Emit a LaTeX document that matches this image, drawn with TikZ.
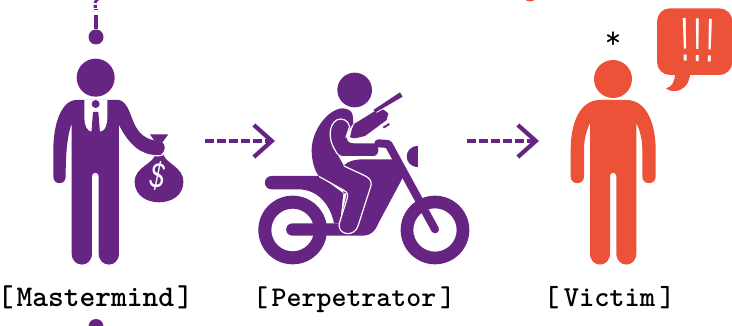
\documentclass[tikz,border=0pt]{standalone}
\usepackage{fontspec}
\newfontfamily\bagfont{Liberation Sans}
\usetikzlibrary{arrows.meta}
\definecolor{plum}{HTML}{662483}
\definecolor{alarm}{HTML}{EC5237}

\newcommand{\rolelabel}[3]{\fontsize{#1}{#1}\ttfamily\bfseries\hspace*{-3pt}[ \hspace{#2}#3 \hspace{#2}]\hspace*{-3pt}}
\newcommand{\thinbang}[1]{\scalebox{0.5}[1]{\rotatebox{#1}{!}}}

\begin{document}
\begin{tikzpicture}[x=1pt,y=-1pt,
    figbox/.style={inner sep=0pt,outer sep=0pt,minimum height=100pt},
    rolename/.style={inner sep=0pt,text=black,anchor=base},
    flow/.style={plum,line width=4.5pt,dash pattern=on 8.5pt off 3.5pt,
      -{Straight Barb[length=18pt,width=32pt,line width=4.2pt]}},
    enddot/.style={circle,fill=#1,inner sep=0pt,minimum size=15pt},
    seam/.style={white,line width=1.2pt,line cap=round,line join=round,fill=none}]
  \useasboundingbox (0,0) rectangle (732,326);
  \clip (0,0) rectangle (732,326);

  % Left: mastermind with the money bag.
  \begin{scope}[scale=1/3,fill=plum]
    \fill (287,233) circle (57);
    \fill (465,462) .. controls (465,490) and (404,500) .. (404,545)
      .. controls (404,590) and (445,607) .. (477,607)
      .. controls (510,607) and (550,590) .. (550,545)
      .. controls (550,500) and (495,490) .. (490,462) -- cycle;
    \fill (450,403) -- (505,403) -- (485,430) -- (468,430) -- cycle;
    \draw[seam] (452,424) .. controls (480,424) and (512,430) .. (497,456)
      .. controls (492,468) and (475,469) .. (458,466);
    \fill (250,300) -- (357,300) .. controls (380,305) and (388,335) .. (400,365)
      .. controls (415,400) and (435,420) .. (480,424)
      .. controls (500,428) and (500,465) .. (470,465)
      .. controls (420,465) and (385,430) .. (357,375) -- (357,760)
      .. controls (357,805) and (296,805) .. (296,760) -- (296,528)
      .. controls (296,515) and (276,515) .. (276,528) -- (276,760)
      .. controls (276,805) and (215,805) .. (215,760) -- (215,370)
      .. controls (205,400) and (197,440) .. (197,530)
      .. controls (197,556) and (160,556) .. (160,530) -- (160,450)
      .. controls (160,370) and (185,300) .. (230,300) -- cycle;
    \fill[white] (253,300) -- (322,300) -- (322,355)
      .. controls (320,385) and (310,395) .. (298,395) -- (276,395)
      .. controls (262,395) and (253,375) .. (253,355) -- cycle;
    \fill (287,312) circle (12);
    \fill (279,336) -- (295,336) -- (300,400) -- (274,400) -- cycle;
  \end{scope}
  \node[inner sep=0pt,text=white,font=\bagfont\itshape\fontsize{36}{36}\selectfont,rotate=-4] (dollar) at (158,176) {\scalebox{0.72}[1]{\$}};

  % Middle: perpetrator on the motorbike.
  \begin{scope}[shift={(200,60)},scale=1/3,fill=plum]
    \fill[even odd rule] (278,510) circle (103) (278,510) circle (64);
    \fill[even odd rule] (705,510) circle (103) (705,510) circle (65);
    \fill (215,348) -- (360,348) -- (430,400) -- (420,490) -- (402,490)
      .. controls (390,430) and (350,388) .. (295,388) -- (215,388)
      .. controls (188,388) and (188,348) .. (215,348) -- cycle;
    \fill (278,490) -- (420,490) -- (440,400) -- (610,350) -- (535,490)
      .. controls (525,515) and (510,527) .. (490,527) -- (278,527)
      .. controls (252,527) and (252,490) .. (278,490) -- cycle;
    \fill (432,316) .. controls (445,303) and (465,298) .. (490,298) -- (580,298)
      -- (612,352) -- (520,400) -- (430,400) -- cycle;
    \draw[plum,line width=8pt,line cap=round,line join=round]
      (535,250) -- (565,252) -- (705,508);
    \fill (655,257) .. controls (610,257) and (610,320) .. (655,320) -- cycle;
    \fill (464,90) circle (52);
    % rider, leg and lower arm in one outline
    \fill (425,145) .. controls (380,150) and (335,215) .. (335,270)
      .. controls (335,305) and (345,335) .. (358,350) -- (430,390)
      .. controls (445,398) and (445,405) .. (440,420) -- (418,490)
      .. controls (410,525) and (465,535) .. (475,495) -- (512,380)
      .. controls (518,360) and (505,352) .. (490,345) -- (432,318)
      -- (415,288) -- (520,288) .. controls (540,288) and (540,250) .. (520,250)
      -- (460,250) .. controls (445,250) and (438,240) .. (440,225)
      -- (450,205) -- (460,190) -- (458,165) .. controls (455,150) and (440,145) .. (425,145) -- cycle;
    \fill (462,192) -- (530,150) -- (545,145) -- (565,160) -- (560,180)
      -- (495,228) -- (465,235) -- (450,232) -- (455,210) -- cycle;
    \fill (520,150) -- (600,97) -- (608,110) -- (560,138) -- (530,157) -- cycle;
    \draw[plum,line width=2pt] (550,203) -- (568,192);
    \draw[seam] (358,350) -- (430,390) .. controls (445,398) and (445,405) .. (440,420)
      -- (418,490) .. controls (410,525) and (465,535) .. (475,495) -- (512,380)
      .. controls (518,360) and (505,352) .. (490,345) -- (432,318);
    \draw[seam] (438,232) -- (449,200) .. controls (445,180) and (425,172) .. (410,180)
      .. controls (385,195) and (385,240) .. (405,270)
      .. controls (412,285) and (420,292) .. (440,292);
    \draw[seam,line width=0.8pt] (530,157) -- (555,143);
  \end{scope}

  % Right: victim and the speech bubble.
  \begin{scope}[shift={(500,0)},scale=1/3,fill=alarm]
    \fill (339,237) circle (57);
    \fill (300,300) -- (379,300) .. controls (440,300) and (467,370) .. (467,450) -- (467,530)
      .. controls (467,556) and (427,556) .. (427,530) -- (427,450)
      .. controls (427,420) and (420,390) .. (409,370) -- (409,760)
      .. controls (409,805) and (349,805) .. (349,760) -- (349,528)
      .. controls (349,515) and (330,515) .. (330,528) -- (330,760)
      .. controls (330,805) and (270,805) .. (270,760) -- (270,370)
      .. controls (259,390) and (252,420) .. (252,450) -- (252,530)
      .. controls (252,556) and (212,556) .. (212,530) -- (212,450)
      .. controls (212,370) and (239,300) .. (300,300) -- cycle;
    \fill[rounded corners=13pt] (471,25) rectangle (697,225);
    \fill (525,220) .. controls (525,245) and (515,262) .. (498,265)
      .. controls (520,285) and (570,270) .. (570,220) -- cycle;
  \end{scope}
  \node[inner sep=0pt,text=white,font=\bagfont\fontsize{62}{62}\selectfont] (shout) at (697.5,40.5)
    {\thinbang{3}\hspace{3.5pt}\thinbang{0}\hspace{3.5pt}\thinbang{-3}};
  \node[inner sep=0pt,font=\ttfamily\fontsize{32}{32}\selectfont] (note) at (613,40) {*};

  % Invisible boxes that the arrows run between.
  \node[figbox,minimum width=152pt] (mastermind) at (129,141) {};
  \node[figbox,minimum width=192pt] (perpetrator) at (371,141) {};
  \node[figbox,minimum width=121pt] (victim) at (599.5,141) {};
  \draw[flow] (mastermind.east) -- (perpetrator.west);
  \draw[flow] (perpetrator.east) -- (victim.west);

  % Ends of the links that run out of the picture.
  \node[enddot=plum] (topdot) at (96,37) {};
  \node[enddot=plum] (bottomdot) at (96,326.5) {};
  \node[enddot=alarm] (reddot) at (530,-6) {};
  \node[inner sep=0pt,anchor=base,text=plum,font=\bagfont\bfseries\fontsize{24}{24}\selectfont] (unknown) at (96,9) {?};
  \draw[plum,line width=4.5pt,dash pattern=on 14pt off 5pt on 8pt off 5pt] (topdot) -- (unknown.south);

  \node[rolename] (masterlabel) at (95.5,306) {\rolelabel{30}{-12.5pt}{Mastermind}};
  \node[rolename] (perplabel) at (354,306) {\rolelabel{28.5}{-11pt}{Perpetrator}};
  \node[rolename] (victimlabel) at (609.5,306) {\rolelabel{29}{-10.5pt}{Victim}};
\end{tikzpicture}
\end{document}
